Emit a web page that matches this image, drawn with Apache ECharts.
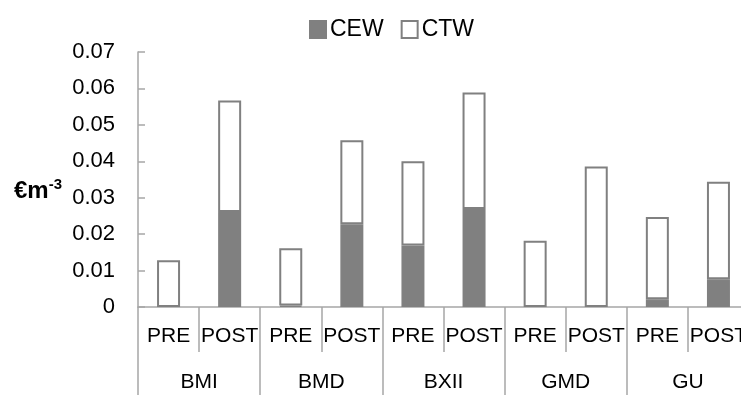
<!DOCTYPE html>
<html>
<head>
<meta charset="utf-8">
<script src="https://cdn.jsdelivr.net/npm/echarts@6/dist/echarts.min.js"></script>
<style>
  html, body { margin: 0; padding: 0; background: #fff; }
  #chart { width: 741px; height: 395px; }
</style>
</head>
<body>
<div id="chart"></div>
<script>
// phases under each site, and the sites themselves
const phases = ['PRE', 'POST', 'PRE', 'POST', 'PRE', 'POST', 'PRE', 'POST', 'PRE', 'POST'];
const sites = ['BMI', 'BMD', 'BXII', 'GMD', 'GU'];

// values in €/m3
const cewValues = [0, 0.0261, 0.0004, 0.0227, 0.0169, 0.0269, 0, 0, 0.0021, 0.0076];
const ctwValues = [0.0128, 0.0306, 0.0157, 0.0231, 0.0231, 0.0320, 0.0182, 0.0386, 0.0226, 0.0268];

const yTicks = { min: 0, max: 0.07, interval: 0.01 };

const axisGrey = '#a6a6a6';
const barGrey = '#808080';
const font = 'Liberation Sans, Arial, sans-serif';

// zero-height bars would still draw their border, so leave them empty
function blankZeros(values) {
    return values.map(v => (v === 0 ? null : v));
}

window.onload = () => {
    const chart = echarts.init(document.getElementById('chart'), null, { renderer: 'canvas' });

    const option = {
        animation: false,
        textStyle: { fontFamily: font },
        legend: {
            left: 304,
            top: 13,
            icon: 'rect',
            itemWidth: 16,
            itemHeight: 17,
            itemGap: 17,
            textStyle: { fontSize: 23, color: '#000', fontFamily: font, padding: [0, 0, 0, -1] },
            data: ['CEW', 'CTW']
        },
        // the last category runs past the right edge, as in the original
        grid: { left: 138, width: 611, top: 52, bottom: 88, containLabel: false, outerBoundsMode: 'none' },
        xAxis: [
            {
                type: 'category',
                data: phases,
                position: 'bottom',
                axisLine: { show: true, lineStyle: { color: axisGrey, width: 1.5 } },
                axisTick: { show: true, interval: 0, length: 45, lineStyle: { color: axisGrey, width: 1.5 } },
                axisLabel: { interval: 0, margin: 19, fontSize: 21, color: '#000', fontFamily: font }
            },
            {
                type: 'category',
                data: sites,
                position: 'bottom',
                axisLine: { show: false },
                axisTick: { show: true, interval: 0, length: 88, lineStyle: { color: axisGrey, width: 1.5 } },
                axisLabel: { interval: 0, margin: 65, fontSize: 21, color: '#000', fontFamily: font }
            }
        ],
        yAxis: {
            type: 'value',
            min: yTicks.min,
            max: yTicks.max,
            interval: yTicks.interval,
            splitLine: { show: false },
            axisLine: { show: true, lineStyle: { color: axisGrey, width: 1.5 } },
            axisTick: { show: true, inside: true, length: 7, lineStyle: { color: axisGrey, width: 1.5 } },
            axisLabel: {
                margin: 23,
                fontSize: 22,
                color: '#000',
                fontFamily: font,
                formatter: v => (v === 0 ? '0' : v.toFixed(2))
            }
        },
        graphic: [{
            type: 'text',
            left: 14,
            top: 177,
            style: {
                text: '{b|€m}{s|-3}',
                rich: {
                    b: { fontSize: 24, fontWeight: 'bold', fill: '#000', fontFamily: font, verticalAlign: 'bottom' },
                    s: { fontSize: 15, fontWeight: 'bold', fill: '#000', fontFamily: font, verticalAlign: 'top', padding: [0, 0, 11, 0] }
                }
            }
        }],
        series: [
            {
                name: 'CEW',
                type: 'bar',
                stack: 'total',
                barWidth: 23,
                xAxisIndex: 0,
                data: blankZeros(cewValues),
                itemStyle: { color: barGrey, borderColor: barGrey, borderWidth: 1.5 }
            },
            {
                name: 'CTW',
                type: 'bar',
                stack: 'total',
                barWidth: 23,
                xAxisIndex: 0,
                data: ctwValues,
                itemStyle: { color: '#fff', borderColor: barGrey, borderWidth: 2 }
            }
        ]
    };

    chart.setOption(option);
};
</script>
</body>
</html>
